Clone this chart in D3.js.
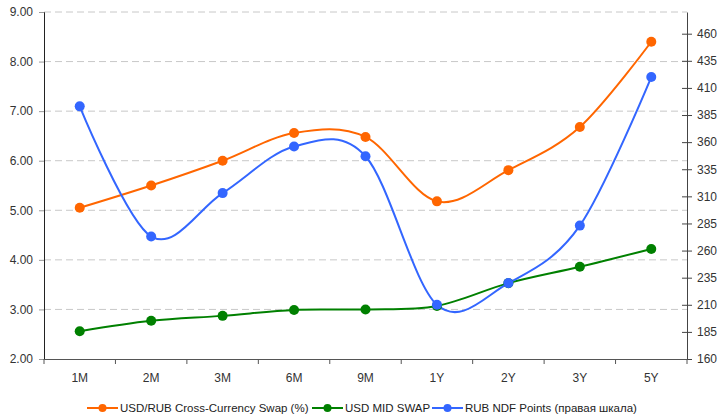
<!DOCTYPE html>
<html>
<head>
<meta charset="utf-8">
<script src="https://cdn.jsdelivr.net/npm/d3@7"></script>
<style>
  html, body { margin: 0; padding: 0; background: #fff; }
  svg { display: block; font-family: "Liberation Sans", Arial, sans-serif; }
</style>
</head>
<body>
<svg id="chart" width="723" height="418"></svg>
<script>
const categories = ["1M", "2M", "3M", "6M", "9M", "1Y", "2Y", "3Y", "5Y"];
const ccsValues = [5.05, 5.50, 6.00, 6.56, 6.48, 5.18, 5.81, 6.68, 8.40];
const usdSwapValues = [2.56, 2.77, 2.87, 2.99, 3.00, 3.07, 3.53, 3.86, 4.22];
const ndfValues = [393, 273, 313, 356, 347, 210, 230, 283, 420];
const leftTicks = [2, 3, 4, 5, 6, 7, 8, 9];
const rightTicks = [160, 185, 210, 235, 260, 285, 310, 335, 360, 385, 410, 435, 460];
const seriesNames = ["USD/RUB Cross-Currency Swap (%)", "USD MID SWAP", "RUB NDF Points (правая шкала)"];
const seriesColors = ["#ff6600", "#008000", "#3366ff"];

const svg = d3.select("#chart");
const mLeft = 44, mRight = 687, mTop = 12, mBottom = 359;

const x = d3.scaleBand().domain(categories).range([mLeft, mRight]).padding(0);
const yL = d3.scaleLinear().domain([2, 9]).range([mBottom, mTop]);
const yR = d3.scaleLinear().domain([160, 480]).range([mBottom, mTop]);

// gridlines
svg.append("g").selectAll("line").data(leftTicks.filter(d => d > 2)).join("line")
  .attr("x1", mLeft).attr("x2", mRight)
  .attr("y1", d => yL(d)).attr("y2", d => yL(d))
  .attr("stroke", "#c8c8c8").attr("stroke-width", 1).attr("stroke-dasharray", "7,4");

// left axis
const gL = svg.append("g").attr("transform", `translate(${mLeft},0)`)
  .call(d3.axisLeft(yL).tickValues(leftTicks).tickFormat(d3.format(".2f")).tickSize(5).tickPadding(6));
gL.select(".domain").attr("stroke", "#222");
gL.selectAll(".tick line").attr("stroke", "#999");
gL.selectAll("text").attr("font-size", 12).attr("fill", "#333").attr("font-family", "Liberation Sans, Arial, sans-serif");

// right axis
const gR = svg.append("g").attr("transform", `translate(${mRight},0)`)
  .call(d3.axisRight(yR).tickValues(rightTicks).tickSizeInner(5).tickSizeOuter(0).tickPadding(5));
gR.select(".domain").attr("stroke", "#444");
gR.selectAll(".tick line").attr("x1", -5).attr("x2", 5).attr("stroke", "#444");
gR.selectAll("text").attr("font-size", 12).attr("fill", "#333").attr("font-family", "Liberation Sans, Arial, sans-serif");

// bottom axis
const gB = svg.append("g").attr("transform", `translate(0,${mBottom})`)
  .call(d3.axisBottom(x).tickSize(0).tickPadding(14));
gB.select(".domain").attr("stroke", "#555");
gB.selectAll("text").attr("font-size", 12).attr("fill", "#333").attr("font-family", "Liberation Sans, Arial, sans-serif");
// boundary ticks
const bounds = categories.map(c => x(c)).concat([mRight]);
svg.append("g").selectAll("line").data(bounds).join("line")
  .attr("x1", d => d).attr("x2", d => d)
  .attr("y1", mBottom).attr("y2", mBottom + 5)
  .attr("stroke", "#555");

const curve = d3.curveCardinal.tension(0);
const cx = c => x(c) + x.bandwidth() / 2;

const series = [
  { vals: ccsValues, scale: yL, color: seriesColors[0] },
  { vals: usdSwapValues, scale: yL, color: seriesColors[1] },
  { vals: ndfValues, scale: yR, color: seriesColors[2] }
];

series.forEach(s => {
  const data = categories.map((c, i) => [cx(c), s.scale(s.vals[i])]);
  svg.append("path")
    .attr("d", d3.line().curve(curve)(data))
    .attr("fill", "none").attr("stroke", s.color).attr("stroke-width", 2);
});
series.forEach(s => {
  svg.append("g").selectAll("circle").data(s.vals).join("circle")
    .attr("cx", (d, i) => cx(categories[i]))
    .attr("cy", d => s.scale(d))
    .attr("r", 5)
    .attr("fill", s.color);
});

// legend
const legendX = [87, 312, 432];
const legendY = 408;
const lg = svg.append("g");
seriesNames.forEach((name, i) => {
  const g = lg.append("g").attr("transform", `translate(${legendX[i]},${legendY})`);
  g.append("line").attr("x1", 0).attr("x2", 31).attr("y1", 0).attr("y2", 0)
    .attr("stroke", seriesColors[i]).attr("stroke-width", 2);
  g.append("circle").attr("cx", 15.5).attr("cy", 0).attr("r", 4).attr("fill", seriesColors[i]);
  g.append("text").attr("x", 33).attr("y", 0).attr("dy", "0.35em")
    .attr("font-size", 11.5).attr("fill", "#222").text(name);
});
</script>
</body>
</html>
